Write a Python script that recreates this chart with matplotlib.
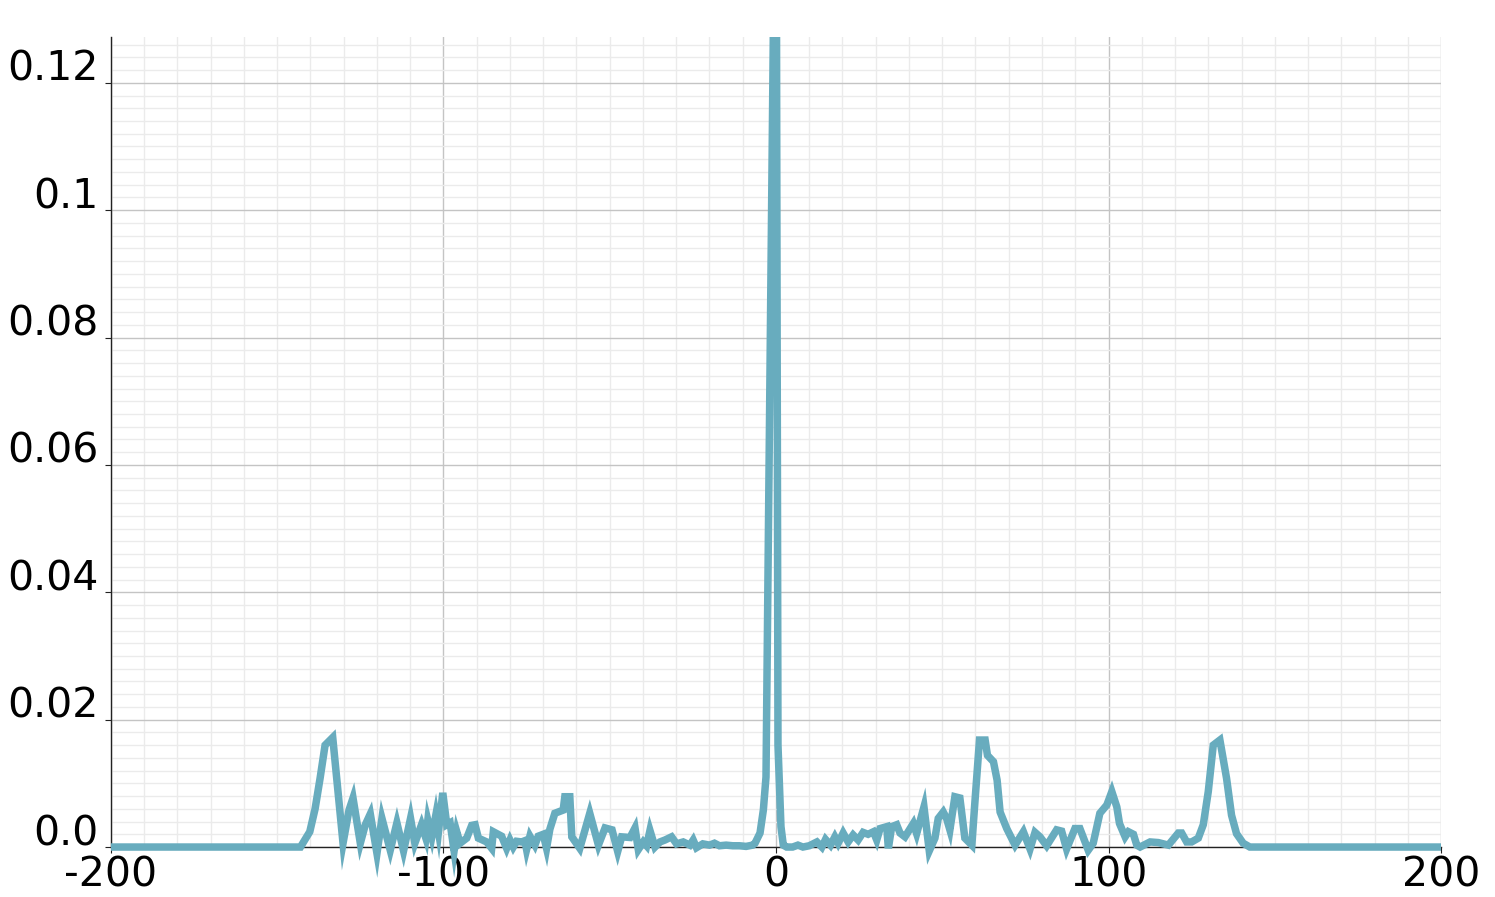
import matplotlib
matplotlib.use("Agg")
import matplotlib.pyplot as plt
from matplotlib.patches import Rectangle
from matplotlib.ticker import MultipleLocator

# spectrum (x, amplitude)
x_left = [-200, -143, -140.2, -138.6, -137.1, -135.6, -133.3, -131.7, -130.2, -128.4,
          -127.2, -125, -123.5, -122, -120, -118.5, -116, -114, -112, -109.9,
          -108.6, -106.6, -105.3, -104.7, -103.5, -102.3, -101.5, -100.2, -99, -98,
          -96.8, -96, -95, -93, -91.5, -90.5, -89.5, -87, -85.5, -85,
          -82.5, -81, -80, -79, -78, -76.5, -75.5, -75, -74, -72.5,
          -71.5, -70, -69, -68, -66.5, -65, -64, -63.5, -62, -61.4,
          -59, -56, -53.4, -51.4, -49.3, -47.6, -46.4, -43.9, -42.4, -41.4,
          -39.9, -38.9, -37.9, -36.4, -34.9, -33.4, -31.4, -29.9, -27.9, -25.9,
          -24.9, -23.9, -22, -20, -18.5, -17, -15, -13, -11, -9,
          -7, -6.3, -4.8, -3.8, -3]
y_left = [0, 0, 0.0024, 0.006, 0.0108, 0.016, 0.0172, 0.0086, 0.0006, 0.0058,
          0.0077, 0.0006, 0.0035, 0.0052, -0.001, 0.0045, -0.0005, 0.0038, -0.0006, 0.0045,
          0.0006, 0.0035, 0.0014, 0.0042, 0.0016, 0.005, 0.0024, 0.0085, 0.0035, 0.0038,
          -0.0006, 0.0024, 0.0006, 0.0014, 0.0034, 0.0035, 0.0014, 0.0008, -0.0002, 0.0024,
          0.0017, -0.0002, 0.0011, 0.0, 0.0009, 0.0008, 0.001, -0.0004, 0.0017, 0.0003,
          0.0017, 0.002, -0.0002, 0.0028, 0.0053, 0.0056, 0.0058, 0.0079, 0.0079, 0.0016,
          -0.0002, 0.0053, 0.0003, 0.003, 0.0027, -0.0007, 0.0016, 0.0015, 0.003, -0.0004,
          0.0008, 0.0002, 0.0026, 0.0, 0.0008, 0.0011, 0.0016, 0.0005, 0.0008, 0.0003,
          0.0011, -0.0001, 0.0005, 0.0003, 0.0006, 0.0002, 0.0003, 0.0002, 0.0002, 0.0001,
          0.0003, 0.0006, 0.0022, 0.0058, 0.011]

x_peak = [0, 0.6]
y_peak = [0.17, 0.016]

x_right = [1.5, 2.2, 3.2, 5, 6.6, 8.1, 10, 12.3, 13.8, 14.9,
           16.4, 17.7, 18.7, 20.2, 21.7, 23.2, 24.7, 26.2, 27.7, 29.3,
           30.3, 31.3, 33.3, 33.8, 34.8, 36.3, 37.3, 38.8, 41.3, 42.3,
           44.5, 46.1, 47.8, 48.8, 50.3, 51.3, 52.3, 53.8, 55.3, 56.8,
           58.9, 59.8, 61.2, 62.9, 63.6, 65.4, 66.5, 67.4, 69.4, 71.9,
           74.4, 76.4, 77.9, 79.4, 81.4, 84.4, 85.9, 87.4, 89.9, 91.4,
           93.9, 95.4, 97.4, 99.5, 101, 102.5, 103.3, 105, 106, 107.5,
           108.5, 109.5, 112.5, 115, 118, 121, 122, 123.5, 125, 127,
           128.5, 130, 131.5, 133.5, 135.5, 137, 138.5, 140.5, 142.5, 200]
y_right = [0.0032, 0.0003, 0, 0, 0.0003, 0, 0.0002, 0.0008, 0, 0.0012,
           0.0003, 0.0016, 0.0006, 0.0022, 0.0008, 0.0019, 0.0011, 0.0023, 0.002, 0.0024,
           0.0011, 0.0029, 0.0032, -0.0002, 0.0032, 0.0035, 0.0022, 0.0016, 0.0037, 0.0021,
           0.0063, -0.0006, 0.0014, 0.0045, 0.0055, 0.0045, 0.0027, 0.0079, 0.0077, 0.0014,
           0.0003, 0.0069, 0.0168, 0.0168, 0.0144, 0.0134, 0.0105, 0.0055, 0.0029, 0.0003,
           0.0024, -0.0003, 0.0023, 0.0016, 0.0002, 0.0027, 0.0025, -0.0003, 0.0029, 0.0029,
           -0.0005, 0.0006, 0.0053, 0.0066, 0.0087, 0.0063, 0.0037, 0.0016, 0.0024, 0.002,
           0.0003, 0, 0.0008, 0.0007, 0.0003, 0.0022, 0.0022, 0.0008, 0.0008, 0.0014,
           0.0035, 0.0087, 0.016, 0.0168, 0.0108, 0.005, 0.0021, 0.0006, 0, 0]

x_ticks = [-200, -100, 0, 100, 200]
x_labels = ["-200", "-100", "0", "100", "200"]
y_ticks = [0, 0.02, 0.04, 0.06, 0.08, 0.1, 0.12]
y_labels = ["0.0", "0.02", "0.04", "0.06", "0.08", "0.1", "0.12"]

xs = x_left + x_peak + x_right
ys = y_left + y_peak + y_right

plt.rcParams['font.family'] = ['DejaVu Sans']
fig = plt.figure(figsize=(14.95, 8.97), dpi=100)
ax = fig.add_axes([0.0742, 0.0557, 0.8897, 0.9031])

line, = ax.plot(xs, ys, color='#68acbe', lw=5.4, solid_joinstyle='miter',
                solid_capstyle='butt', zorder=5)
# let the line spill a little below the axis but clip the top
clip = Rectangle((0, -0.1), 1, 1.1, transform=ax.transAxes, facecolor='none')
line.set_clip_path(clip)

ax.set_xlim(-200, 200)
ax.set_ylim(0, 0.1272)

ax.set_xticks(x_ticks)
ax.set_xticklabels(x_labels)
ax.set_yticks(y_ticks)
ax.set_yticklabels(y_labels)
ax.xaxis.set_minor_locator(MultipleLocator(10))
ax.yaxis.set_minor_locator(MultipleLocator(0.002))

ax.grid(True, which='major', color='#c4c4c4', lw=1.0)
ax.grid(True, which='minor', color='#ebebeb', lw=1.0)
ax.set_axisbelow(True)

for side in ['top', 'right']:
    ax.spines[side].set_visible(False)
for side in ['left', 'bottom']:
    ax.spines[side].set_color('#222222')
    ax.spines[side].set_linewidth(1.0)

ax.tick_params(axis='both', which='major', labelsize=29.5, length=4, width=0.8, color='#222222')
ax.tick_params(axis='x', which='major', pad=2)
ax.tick_params(axis='y', which='major', pad=5)
ax.tick_params(which='minor', length=0)
for lab in ax.get_yticklabels():
    lab.set_verticalalignment('baseline')
    lab.set_y(lab.get_position()[1])

# nudge y labels up a touch like the reference
import matplotlib.transforms as mtrans
offset = mtrans.ScaledTranslation(0, 2 / 100, fig.dpi_scale_trans)
for lab in ax.get_yticklabels():
    lab.set_transform(lab.get_transform() + offset)

fig.savefig('out.png', dpi=100)
